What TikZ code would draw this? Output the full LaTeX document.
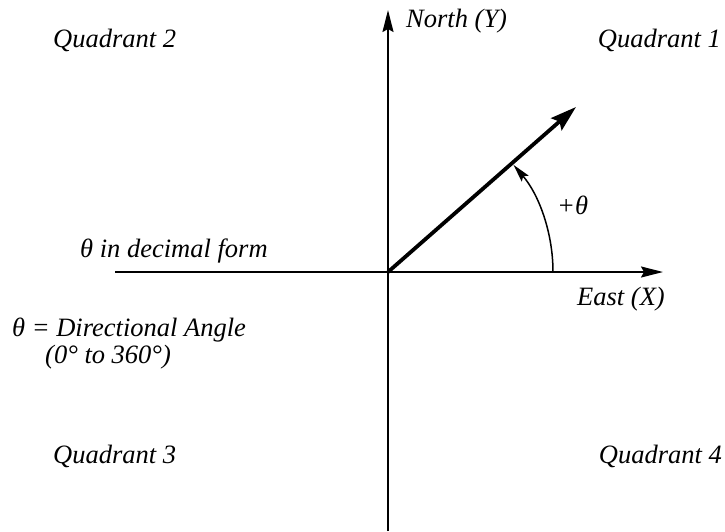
\documentclass[tikz,border=0pt]{standalone}
\usepackage{fontspec}
\setmainfont{Liberation Serif}
\usetikzlibrary{arrows.meta,calc}
\begin{document}
\begin{tikzpicture}[x=1pt,y=-1pt,
  lbl/.style={inner sep=0pt,anchor=base west,font=\fontsize{26.5}{28}\selectfont\itshape},
  axis/.style={line width=1.9pt,-{Stealth[length=22pt,width=11pt,inset=3pt]}},
  vec/.style={line width=3.8pt,-{Stealth[length=26pt,width=16pt,inset=4pt]}},
  ang/.style={line width=1.5pt,-{Stealth[length=18pt,width=9pt,inset=3pt]}}]
\useasboundingbox (0,0) rectangle (725,531);
\coordinate (O) at (388,272);
\coordinate (S) at (388,531);
\coordinate (N) at (388,10);
\coordinate (W) at (115,272);
\coordinate (E) at (663,272);
\coordinate (V) at (576,107);
\coordinate (A0) at (553,272);
% axes
\draw[line width=1.9pt] (S) -- (O);
\draw[axis] (O) -- (N);
\draw[line width=1.9pt] (W) -- (O);
\draw[axis] (O) -- (E);
% vector
\draw[vec] (O) -- (V);
% angle arc
\draw[ang] (A0) arc[start angle=0,end angle=-40.5,radius=165];
% labels
\node[lbl] (north) at (406,27) {North (Y)};
\node[lbl] (q2) at (53,47) {Quadrant 2};
\node[lbl,anchor=base east] (q1) at (721,47) {Quadrant 1};
\node[lbl] (theta) at (557,214) {+θ};
\node[lbl] (dec) at (80,257) {θ in decimal form};
\node[lbl] (east) at (577,305) {East (X)};
\node[lbl] (dir) at (12,336) {θ = Directional Angle};
\node[lbl] (range) at (45,363) {(0° to 360°)};
\node[lbl] (q3) at (53,463) {Quadrant 3};
\node[lbl,anchor=base east] (q4) at (722,463) {Quadrant 4};
\end{tikzpicture}
\end{document}
